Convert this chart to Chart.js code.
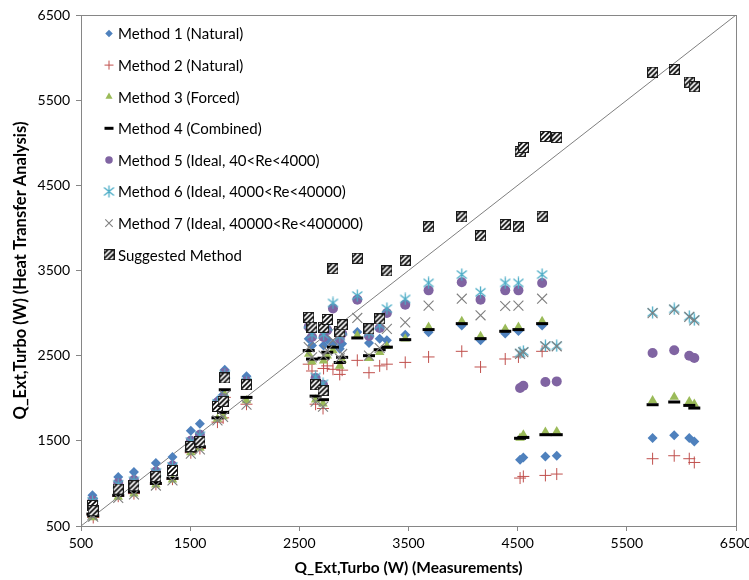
<!DOCTYPE html>
<html>
<head>
<meta charset="utf-8">
<script src="https://cdn.jsdelivr.net/npm/chart.js@4.4.1/dist/chart.umd.min.js"></script>
<style>
  html, body { margin: 0; padding: 0; background: #fff; }
  #wrap { width: 749px; height: 580px; position: relative; }
</style>
</head>
<body>
<div id="wrap"><canvas id="chart"></canvas></div>
<script>
// measured heat (x) and the values each method predicts for the same runs
const measured  = [605, 612, 841, 985, 1186, 1338, 1506, 1589, 1750, 1802, 1817, 2016, 2586, 2616, 2649, 2717, 2722, 2756, 2808, 2870, 2892, 3031, 3138, 3236, 3302, 3470, 3684, 3988, 4160, 4386, 4507, 4522, 4552, 4724, 4754, 4858, 5736, 5934, 6072, 6118];
const method1   = [860, 820, 1075, 1133, 1239, 1310, 1619, 1701, 1975, 2040, 2335, 2257, 2700, 2620, 2210, 2130, 2620, 2690, 2640, 2580, 2640, 2779, 2650, 2700, 2680, 2747, 2774, 2853, 2680, 2759, 2790, 1278, 1305, 2853, 1317, 1325, 1533, 1565, 1533, 1493];
const method2   = [640, 600, 850, 880, 990, 1050, 1360, 1410, 1720, 1770, 2010, 1930, 2400, 2320, 1930, 1880, 2350, 2380, 2340, 2280, 2330, 2445, 2300, 2380, 2400, 2421, 2485, 2551, 2367, 2461, 2485, 1063, 1082, 2551, 1094, 1110, 1290, 1325, 1290, 1246];
const method3   = [620, 600, 840, 878, 984, 1043, 1364, 1416, 1756, 1787, 2042, 1975, 2520, 2430, 1983, 1936, 2440, 2500, 2560, 2380, 2450, 2736, 2470, 2540, 2610, 2700, 2837, 2903, 2727, 2814, 2837, 1533, 1572, 2903, 1604, 1611, 1975, 2015, 1963, 1932];
const method4   = [640, 620, 860, 900, 1000, 1060, 1380, 1430, 1770, 1834, 2100, 2010, 2560, 2460, 2025, 1983, 2470, 2540, 2600, 2420, 2480, 2708, 2500, 2570, 2600, 2688, 2806, 2876, 2700, 2786, 2806, 1530, 1540, 2876, 1572, 1572, 1924, 1956, 1916, 1885];
const method5   = [800, 760, 1004, 1040, 1140, 1210, 1500, 1572, 1950, 2000, 2297, 2200, 2840, 2720, 2238, 2159, 2720, 2800, 3053, 2700, 2760, 3158, 2730, 2825, 3002, 3099, 3267, 3361, 3158, 3267, 3267, 2120, 2147, 3354, 2190, 2198, 2532, 2563, 2500, 2473];
const method6   = [790, 750, 990, 1030, 1130, 1200, 1490, 1560, 1940, 1990, 2280, 2190, 2870, 2750, 2250, 2170, 2750, 2840, 3119, 2730, 2790, 3205, 2770, 2860, 3053, 3166, 3354, 3452, 3244, 3354, 3354, 2532, 2551, 3452, 2617, 2617, 3009, 3049, 2962, 2923];
const method7   = [630, 610, 830, 870, 975, 1035, 1350, 1400, 1740, 1780, 2030, 1924, 2600, 2480, 1960, 1900, 2500, 2560, 2680, 2470, 2520, 2943, 2500, 2590, 2814, 2891, 3087, 3169, 2974, 3083, 3087, 2520, 2540, 3169, 2610, 2610, 3000, 3040, 2955, 2915];
const suggested = [740, 680, 934, 973, 1082, 1152, 1434, 1493, 1904, 1963, 2238, 2159, 2950, 2833, 2159, 2090, 2833, 2925, 3522, 2780, 2864, 3644, 2815, 2931, 3495, 3621, 4013, 4130, 3907, 4039, 4013, 4897, 4944, 4137, 5073, 5061, 5829, 5861, 5712, 5657];

const seriesNames = [
  'Method 1 (Natural)',
  'Method 2 (Natural)',
  'Method 3 (Forced)',
  'Method 4 (Combined)',
  'Method 5 (Ideal, 40<Re<4000)',
  'Method 6 (Ideal, 4000<Re<40000)',
  'Method 7 (Ideal, 40000<Re<400000)',
  'Suggested Method'
];
const tickValues = [500, 1500, 2500, 3500, 4500, 5500, 6500];
const diagonal = [500, 6500];

const FONT = 'Lato, "Open Sans", sans-serif';
const AXIS = '#868686';

// hatched box marker for the suggested method
function hatchBox() {
  const c = document.createElement('canvas');
  c.width = 11; c.height = 11;
  const g = c.getContext('2d');
  g.fillStyle = '#fff';
  g.fillRect(0, 0, 11, 11);
  g.save();
  g.beginPath(); g.rect(1, 1, 9, 9); g.clip();
  g.strokeStyle = '#000'; g.lineWidth = 1.6;
  for (let k = -11; k <= 22; k += 5) {
    g.beginPath(); g.moveTo(k, 11); g.lineTo(k + 11, 0); g.stroke();
  }
  g.restore();
  g.strokeStyle = '#1a1a1a'; g.lineWidth = 1;
  g.strokeRect(0.5, 0.5, 10, 10);
  return c;
}

// six-armed asterisk (x plus vertical stroke)
function asterisk(color) {
  const c = document.createElement('canvas');
  c.width = 13; c.height = 13;
  const g = c.getContext('2d');
  g.strokeStyle = color; g.lineWidth = 1.3;
  g.beginPath();
  g.moveTo(6.5, 0.5); g.lineTo(6.5, 12.5);
  g.moveTo(1.5, 2.5); g.lineTo(11.5, 10.5);
  g.moveTo(11.5, 2.5); g.lineTo(1.5, 10.5);
  g.stroke();
  return c;
}

const boxImg = hatchBox();
const starImg = asterisk('#4BACC6');

const styles = [
  { pointStyle: 'rectRot', pointRadius: 5, backgroundColor: '#4F81BD', borderColor: '#4F81BD', pointBorderWidth: 0 },
  { pointStyle: 'cross', pointRadius: 6, backgroundColor: '#C0504D', borderColor: '#C0504D', pointBorderWidth: 1 },
  { pointStyle: 'triangle', pointRadius: 5.5, backgroundColor: '#9BBB59', borderColor: '#9BBB59', pointBorderWidth: 0 },
  { pointStyle: 'line', pointRadius: 6, backgroundColor: '#000', borderColor: '#000', pointBorderWidth: 3 },
  { pointStyle: 'circle', pointRadius: 5, backgroundColor: '#8064A2', borderColor: '#8064A2', pointBorderWidth: 0 },
  { pointStyle: starImg, pointRadius: 6, backgroundColor: '#4BACC6', borderColor: '#4BACC6', pointBorderWidth: 1 },
  { pointStyle: 'crossRot', pointRadius: 7, backgroundColor: '#7F7F7F', borderColor: '#7F7F7F', pointBorderWidth: 1.1 },
  { pointStyle: boxImg, pointRadius: 6, backgroundColor: '#fff', borderColor: '#000', pointBorderWidth: 1 }
];

const seriesValues = [method1, method2, method3, method4, method5, method6, method7, suggested];

const datasets = seriesValues.map((ys, i) => Object.assign({
  type: 'scatter',
  label: seriesNames[i],
  data: measured.map((x, k) => ({ x: x, y: ys[k] })),
  showLine: false,
  order: 8 - i
}, styles[i]));

// y = x reference line
datasets.push({
  type: 'line',
  label: '',
  data: diagonal.map(v => ({ x: v, y: v })),
  borderColor: '#7F7F7F',
  borderWidth: 1,
  pointRadius: 0,
  order: 20
});

const plotFrame = {
  id: 'plotFrame',
  beforeDatasetsDraw(chart) {
    const a = chart.chartArea, ctx = chart.ctx;
    ctx.save();
    ctx.strokeStyle = AXIS; ctx.lineWidth = 1;
    ctx.strokeRect(Math.round(a.left) + 0.5, Math.round(a.top) + 0.5, Math.round(a.right - a.left), Math.round(a.bottom - a.top));
    ctx.restore();
  }
};

const insetLegend = {
  id: 'insetLegend',
  afterDraw(chart) {
    const ctx = chart.ctx;
    ctx.save();
    ctx.font = '15px ' + FONT;
    ctx.textBaseline = 'middle';
    seriesNames.forEach((name, i) => {
      const st = styles[i];
      const y = 33.5 + i * 31.6;
      ctx.fillStyle = st.backgroundColor;
      ctx.strokeStyle = st.borderColor;
      ctx.lineWidth = st.pointBorderWidth;
      const small = typeof st.pointStyle === 'string' ? st.pointRadius * 0.75 : st.pointRadius;
      Chart.helpers.drawPoint(ctx, { pointStyle: st.pointStyle, radius: small, rotation: 0, borderWidth: st.pointBorderWidth }, 109, y);
      ctx.fillStyle = '#000';
      ctx.fillText(name, 118, y + 1);
    });
    ctx.restore();
  }
};

new Chart(document.getElementById('chart'), {
  data: { datasets: datasets },
  options: {
    responsive: true,
    maintainAspectRatio: false,
    animation: false,
    events: [],
    layout: { padding: { top: 15, right: 0, left: 11, bottom: 0 } },
    plugins: { legend: { display: false }, tooltip: { enabled: false } },
    scales: {
      x: {
        type: 'linear', min: 500, max: 6500,
        afterBuildTicks: s => { s.ticks = tickValues.map(v => ({ value: v })); },
        afterFit: s => { s.height = 54; s.paddingRight = 13; s.paddingLeft = 0; },
        grid: { drawOnChartArea: false, drawTicks: true, tickLength: 5, color: AXIS },
        border: { color: AXIS },
        ticks: { color: '#000', font: { family: FONT, size: 14 }, padding: 4, maxRotation: 0, callback: v => String(v) },
        title: { display: true, text: 'Q_Ext,Turbo (W) (Measurements)', color: '#000', font: { family: FONT, size: 15.5, weight: 'bold' }, padding: { top: 0, bottom: 3 } }
      },
      y: {
        type: 'linear', min: 500, max: 6500,
        afterBuildTicks: s => { s.ticks = tickValues.map(v => ({ value: v })); },
        afterFit: s => { s.width = 70; },
        grid: { drawOnChartArea: false, drawTicks: true, tickLength: 5, color: AXIS },
        border: { color: AXIS },
        ticks: { color: '#000', font: { family: FONT, size: 14 }, padding: 6, callback: v => String(v) },
        title: { display: true, text: 'Q_Ext,Turbo (W) (Heat Transfer Analysis)', color: '#000', font: { family: FONT, size: 16.5, weight: 'bold' }, padding: { top: 0, bottom: 0 } }
      }
    }
  },
  plugins: [plotFrame, insetLegend]
});
</script>
</body>
</html>
